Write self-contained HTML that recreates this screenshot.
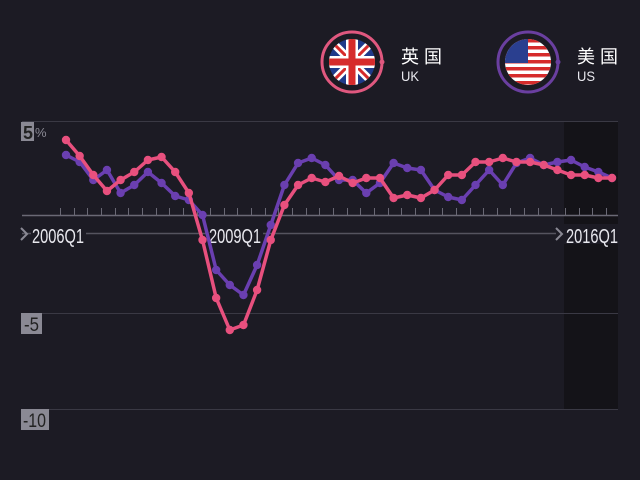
<!DOCTYPE html>
<html><head><meta charset="utf-8"><style>
html,body{margin:0;padding:0;background:#1c1b24;}
svg{display:block}
text{font-family:"Liberation Sans","Noto Sans CJK SC",sans-serif;}
</style></head><body>
<svg id="s" width="640" height="480" viewBox="0 0 640 480" xmlns="http://www.w3.org/2000/svg">
<rect width="640" height="480" fill="#1c1b24"/>
<rect x="564" y="121" width="54" height="288" fill="#141318"/>
<g stroke="#3a3944" stroke-width="1">
<line x1="22" y1="121.5" x2="618" y2="121.5"/>
<line x1="22" y1="313.5" x2="618" y2="313.5"/>
<line x1="22" y1="409.5" x2="618" y2="409.5"/>
</g>
<line x1="22" y1="215.5" x2="618" y2="215.5" stroke="#6a6975" stroke-width="1.5"/>
<g id="ticks" stroke="#6a6975" stroke-width="1"></g>
<line x1="22" y1="233.5" x2="618" y2="233.5" stroke="#55545f" stroke-width="1.5"/>
<rect x="21" y="122" width="13" height="19" fill="#8a8994"/>
<text x="23" y="139" font-size="18" fill="#222" font-weight="bold" textLength="10" lengthAdjust="spacingAndGlyphs">5</text>
<text x="35" y="137" font-size="13" fill="#8a8994">%</text>
<rect x="21" y="313" width="21" height="21" fill="#8a8994"/>
<text x="24" y="331" font-size="19" fill="#222" textLength="15" lengthAdjust="spacingAndGlyphs">-5</text>
<rect x="21" y="409" width="28" height="21" fill="#8a8994"/>
<text x="23" y="427" font-size="19" fill="#222" textLength="23" lengthAdjust="spacingAndGlyphs">-10</text>
<rect x="31" y="224" width="55" height="20" fill="#1c1b24"/>
<rect x="207" y="224" width="56" height="20" fill="#1c1b24"/>
<rect x="556" y="224" width="64" height="20" fill="#1c1b24"/>
<path d="M21 228 L27 234 L21 240" stroke="#8a8994" stroke-width="2" fill="none"/>
<text x="32" y="243" font-size="20" fill="#e8e8ee" textLength="52" lengthAdjust="spacingAndGlyphs">2006Q1</text>
<text x="209" y="243" font-size="20" fill="#e8e8ee" textLength="52" lengthAdjust="spacingAndGlyphs">2009Q1</text>
<path d="M556 228 L562 234 L556 240" stroke="#8a8994" stroke-width="2" fill="none"/>
<text x="566" y="243" font-size="20" fill="#e8e8ee" textLength="52" lengthAdjust="spacingAndGlyphs">2016Q1</text>
<g id="us"></g><g id="uk"></g>
<circle cx="352" cy="62" r="30" fill="none" stroke="#e0587f" stroke-width="3"/>
<circle cx="382" cy="62" r="2.5" fill="#e0587f"/>
<clipPath id="c1"><circle cx="352" cy="62" r="23"/></clipPath>
<g clip-path="url(#c1)">
<rect x="329" y="39" width="46" height="46" fill="#1f3a8a"/>
<path d="M329 39 L375 85 M375 39 L329 85" stroke="#fff" stroke-width="8"/>
<path d="M329 39 L375 85 M375 39 L329 85" stroke="#d62b2b" stroke-width="3"/>
<rect x="346" y="39" width="12" height="46" fill="#fff"/><rect x="329" y="56" width="46" height="12" fill="#fff"/>
<rect x="348.5" y="39" width="7" height="46" fill="#d62b2b"/><rect x="329" y="58.5" width="46" height="7" fill="#d62b2b"/>
</g>
<text x="401" y="63" font-size="18" fill="#fff">英 国</text>
<text x="401" y="81" font-size="14" fill="#e8e8ee" textLength="18" lengthAdjust="spacingAndGlyphs">UK</text>
<circle cx="528" cy="62" r="30" fill="none" stroke="#6a3fa0" stroke-width="3"/>
<circle cx="558" cy="62" r="2.5" fill="#6a3fa0"/>
<clipPath id="c2"><circle cx="528" cy="62" r="23"/></clipPath>
<g clip-path="url(#c2)">
<rect x="505" y="39" width="46" height="46" fill="#fff"/>
<g fill="#d62b2b"><rect x="505" y="39" width="46" height="3.5"/><rect x="505" y="46" width="46" height="3.5"/><rect x="505" y="53" width="46" height="3.5"/><rect x="505" y="60" width="46" height="3.5"/><rect x="505" y="67" width="46" height="3.5"/><rect x="505" y="74" width="46" height="3.5"/><rect x="505" y="81" width="46" height="3.5"/></g>
<rect x="505" y="39" width="23" height="24" fill="#2a3f8f"/>
</g>
<text x="577" y="63" font-size="18" fill="#fff">美 国</text>
<text x="577" y="81" font-size="14" fill="#e8e8ee" textLength="18" lengthAdjust="spacingAndGlyphs">US</text>
</svg>
<script>
var NS="http://www.w3.org/2000/svg";
var t=document.getElementById("ticks");
for(var i=0;i<=40;i++){var x=Math.round(66+13.65*i-6)+0.5;if(x>618)x=617.5;var l=document.createElementNS(NS,"line");l.setAttribute("x1",x);l.setAttribute("x2",x);l.setAttribute("y1",208);l.setAttribute("y2",215);t.appendChild(l);}
var uk=[140,156,175,191,180,172,160,157,172,193,240,298,330,325,290,240,205,185,178,182,176,183,178,178,198,195,198,190,175,175,162,162,158,162,162,165,170,175,175,178,178];
var us=[155,162,180,170,193,185,172,183,196,200,215,270,285,295,265,225,185,163,158,165,180,180,193,183,163,168,170,190,197,200,185,170,185,163,158,165,162,160,167,172,178];
function draw(id,d,c){var g=document.getElementById(id);var pts=d.map(function(y,i){return (66+13.65*i).toFixed(1)+","+y}).join(" ");
var p=document.createElementNS(NS,"polyline");p.setAttribute("points",pts);p.setAttribute("fill","none");p.setAttribute("stroke",c);p.setAttribute("stroke-width","3.5");p.setAttribute("stroke-linejoin","round");g.appendChild(p);
d.forEach(function(y,i){var ci=document.createElementNS(NS,"circle");ci.setAttribute("cx",66+13.65*i);ci.setAttribute("cy",y);ci.setAttribute("r",4.2);ci.setAttribute("fill",c);g.appendChild(ci);});}
draw("us",us,"#6a3fb0");draw("uk",uk,"#e8507e");
</script>
</body></html>
